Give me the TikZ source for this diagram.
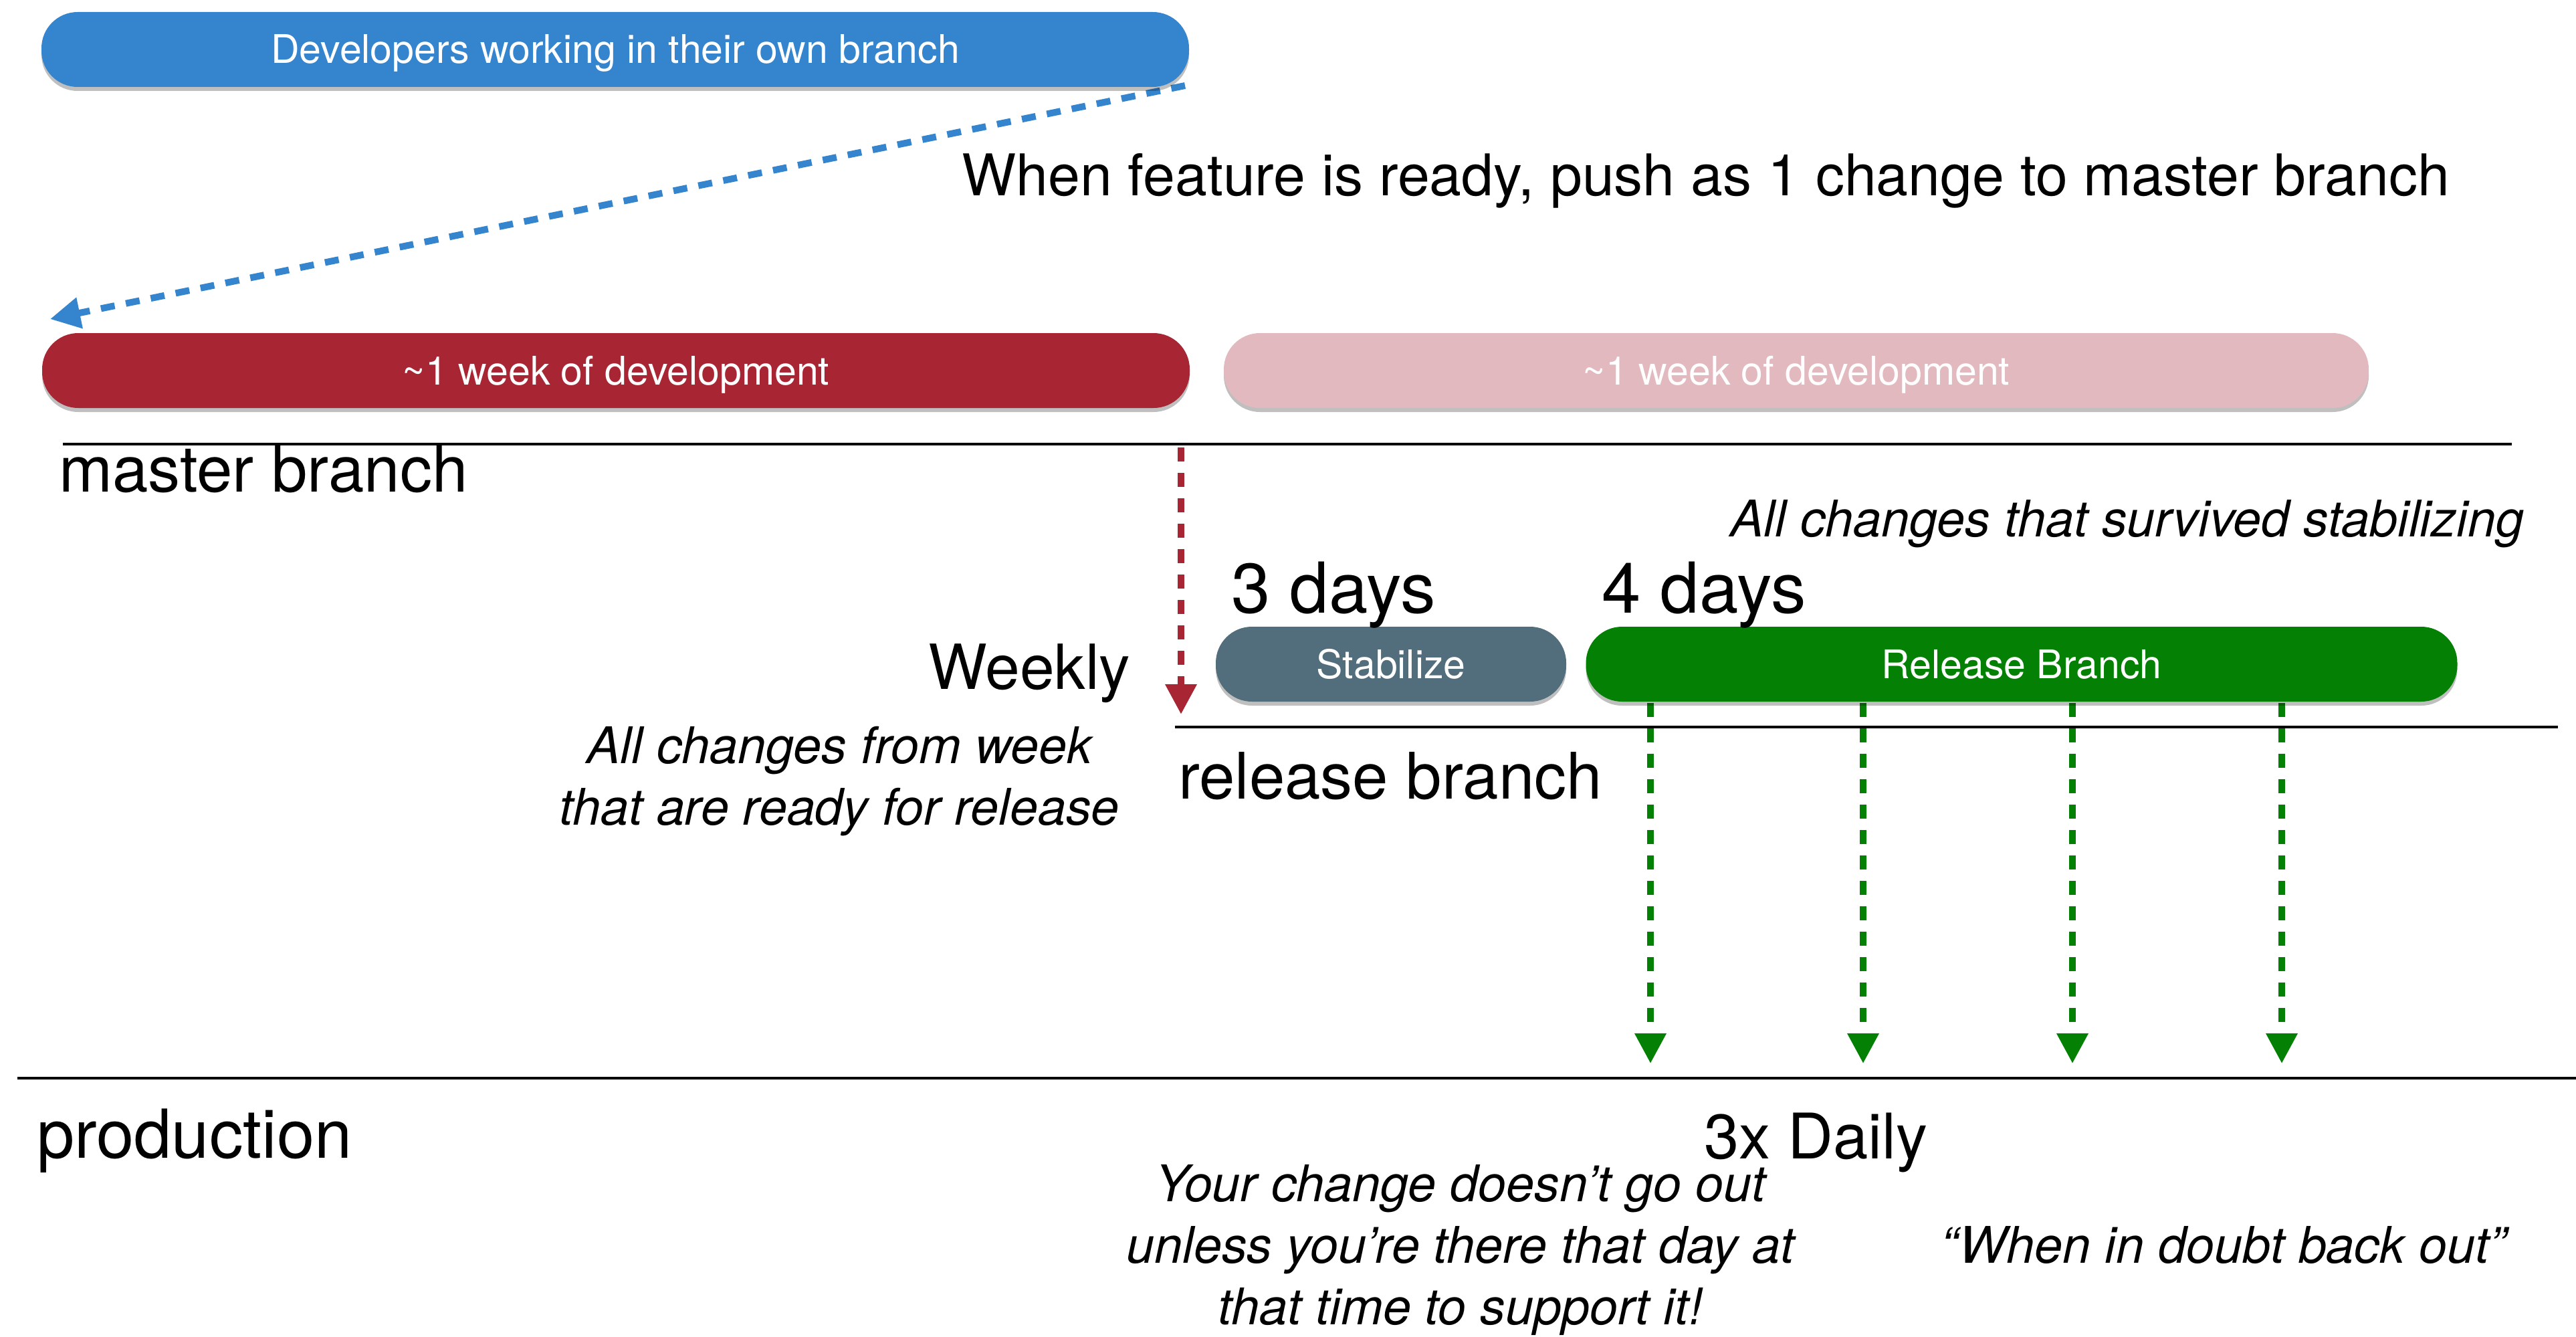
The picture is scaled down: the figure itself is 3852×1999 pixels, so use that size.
\documentclass[tikz,border=0pt]{standalone}
\usepackage{fontspec}
\setmainfont{TeX Gyre Heros}
\usetikzlibrary{arrows.meta,shadows}
\definecolor{pblue}{HTML}{3584CE}
\definecolor{pred}{HTML}{A82634}
\definecolor{ppink}{HTML}{E2B9BE}
\definecolor{pslate}{HTML}{526E7D}
\definecolor{pgreen}{HTML}{048104}
\newcommand\myfs[1]{\fontsize{#1}{#1}\selectfont}
\begin{document}
\begin{tikzpicture}[x=1pt,y=-1pt,
  pill/.style={rounded corners=54pt, minimum height=112pt, inner sep=0pt, text=white,
    font=\myfs{59}, text height=42pt, text depth=0pt,
    drop shadow={shadow xshift=0pt, shadow yshift=-6pt, opacity=0.25, fill=black}},
  lbl/.style={inner sep=0pt, anchor=base west, text=black},
  ital/.style={inner sep=0pt, anchor=base, font=\myfs{75.5}\itshape},
  blackline/.style={line width=4.5pt, black},
  dasharr/.style={line width=10pt, dash pattern=on 21pt off 17pt,
    -{Triangle[length=45pt,width=45pt]}},
]
\useasboundingbox (0,0) rectangle (3852,1999);

% branch lines
\coordinate (m1) at (94,664);   \coordinate (m2) at (3756,664);
\coordinate (r1) at (1757,1087); \coordinate (r2) at (3825,1087);
\coordinate (p1) at (26,1612);  \coordinate (p2) at (3852,1612);
\draw[blackline] (m1) -- (m2);
\draw[blackline] (r1) -- (r2);
\draw[blackline] (p1) -- (p2);

% arrows
\coordinate (bs) at (1772,128); \coordinate (bt) at (75,477);
\draw[dasharr, pblue] (bs) -- (bt);
\coordinate (rs) at (1766,669); \coordinate (rt) at (1766,1068);
\draw[dasharr, pred] (rs) -- (rt);
\foreach \x [count=\i] in {2468,2786,3099,3412} {
  \coordinate (gs\i) at (\x,1051);
  \coordinate (gt\i) at (\x,1590);
  \draw[dasharr, pgreen] (gs\i) -- (gt\i);
}

% pills
\node[pill, fill=pblue, minimum width=1716pt] (dev) at (920,74) {Developers working in their own branch};
\node[pill, fill=pred, minimum width=1716pt] (wk1) at (921,554) {\textasciitilde1 week of development};
\node[pill, fill=ppink, minimum width=1712pt] (wk2) at (2686,554) {\textasciitilde1 week of development};
\node[pill, fill=pslate, minimum width=524pt] (stab) at (2080,993) {Stabilize};
\node[pill, fill=pgreen, minimum width=1303pt] (rel) at (3023,993) {Release Branch};

% labels
\node[lbl, font=\myfs{86}] (push) at (1438,292) {When feature is ready, push as 1 change to master branch};
\node[lbl, font=\myfs{96}] (mb) at (88,735) {master branch};
\node[lbl, font=\myfs{96}] (rb) at (1762,1194) {release branch};
\node[lbl, font=\myfs{101}] (prod) at (55,1731) {production};
\node[lbl, anchor=base east, font=\myfs{93}] (weekly) at (1690,1030) {Weekly};
\node[lbl, font=\myfs{105}] (d3) at (1841,916) {3 days};
\node[lbl, font=\myfs{105}] (d4) at (2395,916) {4 days};
\node[lbl, font=\myfs{94}] (daily) at (2548,1732) {3x Daily};

\node[ital, anchor=base west] (surv) at (2587,802) {All changes that survived stabilizing};
\node[ital] (w1) at (1255,1141) {All changes from week};
\node[ital] (w2) at (1255,1233) {that are ready for release};
\node[ital] (y1) at (2184,1796) {Your change doesn’t go out};
\node[ital] (y2) at (2184,1888) {unless you’re there that day at};
\node[ital] (y3) at (2184,1980) {that time to support it!};
\node[ital] (doubt) at (3325,1888) {“When in doubt back out”};
\end{tikzpicture}
\end{document}
